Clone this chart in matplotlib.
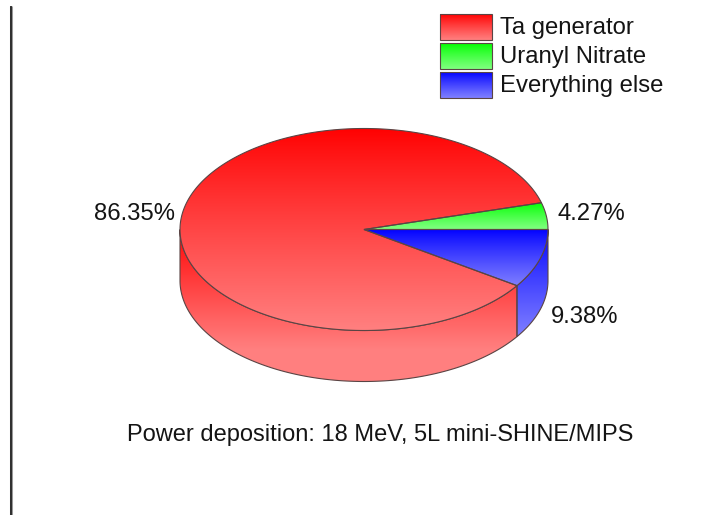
import numpy as np
import matplotlib
matplotlib.use("Agg")
import matplotlib.pyplot as plt
from matplotlib.patches import Polygon

labels = ["Ta generator", "Uranyl Nitrate", "Everything else"]
values = [86.35, 4.27, 9.38]
value_labels = ["86.35%", "4.27%", "9.38%"]
caption = "Power deposition: 18 MeV, 5L mini-SHINE/MIPS"

top_colors = [(1, 0, 0), (0, 1, 0), (0, 0, 1)]
low_colors = [(1, .5, .5), (.5, 1, .5), (.5, .5, 1)]
EDGE = "#5a4444"
TEXT = "#141414"
W, H = 706, 515
CX, CY, RX, RY, DEPTH = 364, 229.5, 184, 101, 51

plt.rcParams["font.family"] = ["Liberation Sans", "DejaVu Sans"]
fig = plt.figure(figsize=(W / 100, H / 100), dpi=100)
ax = fig.add_axes([0, 0, 1, 1])
ax.set_xlim(0, W)
ax.set_ylim(H, 0)
ax.axis("off")


def rim(deg, dy=0.0):
    a = np.radians(deg)
    return np.column_stack([CX + RX * np.cos(a), CY - RY * np.sin(a) + dy])


def grad_poly(pts, c0, c1, z, grad_end=None):
    poly = Polygon(pts, closed=True, facecolor="none", edgecolor="none", zorder=z)
    ax.add_patch(poly)
    ymin, ymax = pts[:, 1].min(), pts[:, 1].max()
    xmin, xmax = pts[:, 0].min(), pts[:, 0].max()
    ys = np.linspace(ymin, ymax, 256)
    end = ymax if grad_end is None else grad_end
    t = (np.clip((ys - ymin) / (end - ymin), 0, 1) ** 0.88)[:, None]
    img = np.dstack([c0[i] + (c1[i] - c0[i]) * t for i in range(3)])
    im = ax.imshow(img, extent=[xmin, xmax, ymax, ymin], aspect="auto", zorder=z,
                   interpolation="bilinear")
    im.set_clip_path(poly)
    ax.add_patch(Polygon(pts, closed=True, facecolor="none", edgecolor=EDGE,
                         lw=0.8, zorder=z + 0.1))


# slice angles, counter-clockwise from east: green, red, blue
green_end = values[1] / 100 * 360
red_end = green_end + values[0] / 100 * 360
angles = {1: (0, green_end), 0: (green_end, red_end), 2: (red_end, 360.0)}

# side walls: only the front part of the cylinder is visible
a_red = np.linspace(180, red_end, 200)
side_red = np.vstack([rim(a_red), rim(a_red[::-1], DEPTH)])
a_blue = np.linspace(red_end, 360, 60)
side_blue = np.vstack([rim(a_blue), rim(a_blue[::-1], DEPTH)])
grad_poly(side_red, top_colors[0], low_colors[0], 2, grad_end=350)
grad_poly(side_blue, top_colors[2], low_colors[2], 2)

# top faces
for i in (0, 1, 2):
    s, e = angles[i]
    arc = rim(np.linspace(s, e, 300))
    pts = np.vstack([[CX, CY], arc])
    grad_poly(pts, top_colors[i], low_colors[i], 3)

# value labels
fs = 17.2
ax.text(94, 214, value_labels[0], fontsize=fs, color=TEXT, ha="left", va="center")
ax.text(557, 214, value_labels[1], fontsize=fs, color=TEXT, ha="left", va="center")
ax.text(551, 317, value_labels[2], fontsize=fs, color=TEXT, ha="left", va="center")

# legend
for (y0, y1), lab, c0, c1 in zip([(14, 40), (43, 69), (72, 98)], labels, top_colors, low_colors):
    pts = np.array([[439.5, y0], [492, y0], [492, y1], [439.5, y1]], float)
    grad_poly(pts, c0, c1, 3)
    ax.text(500, (y0 + y1) / 2 + 1, lab, fontsize=fs, color=TEXT, ha="left", va="center")

ax.text(127, 434.5, caption, fontsize=17, color=TEXT, ha="left", va="center")

# left border line
ax.plot([10.8, 10.8], [6, H], color="#999999", lw=2.2, zorder=5, solid_capstyle="butt")
ax.plot([10.8, 10.8], [6, H], color="#111111", lw=1.1, zorder=6, solid_capstyle="butt")

ax.set_xlim(0, W)
ax.set_ylim(H, 0)
fig.savefig("out.png", dpi=100, facecolor="white")
